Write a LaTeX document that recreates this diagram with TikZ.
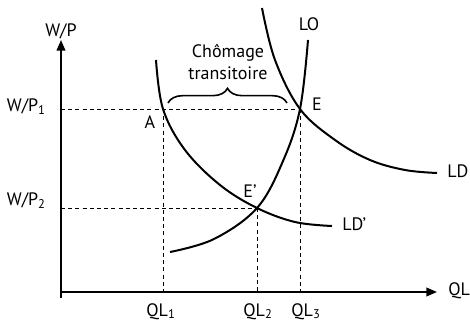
\documentclass[tikz,border=0pt]{standalone}
\usepackage{fontspec}
\setmainfont{PT Sans}
\usetikzlibrary{arrows.meta,positioning,decorations.pathreplacing}

\begin{document}
\begin{tikzpicture}[x=0.75pt,y=0.75pt, every node/.style={font=\fontsize{13.5}{16}\selectfont,inner sep=0pt}, axis/.style={line width=1.4pt,-{Triangle[length=8pt,width=6.5pt]}}, curve/.style={line width=1.5pt}, guide/.style={line width=0.7pt,dash pattern=on 3pt off 2.4pt}, >=Latex]
\useasboundingbox (0,0) rectangle (470,321);
% points of the graph
\coordinate (O) at (61,29);\coordinate (ytop) at (61,281);\coordinate (xend) at (437,29);
\coordinate (E) at (300,212);\coordinate (A) at (163,212);\coordinate (Ep) at (257,113);
% axes
\draw[axis] (O)--(ytop);\draw[axis] (O)--(xend);\draw[line width=1.4pt] (O)--++(0,-6);
\node (wp) at (61,290) {W/P};
\node (ql) [anchor=west] at (448,30) {QL};
% guide lines
\draw[guide] (O|-E)--(E);\draw[guide] (E)--(E|-O);\draw[guide] (A)--(A|-O);
\draw[guide] (O|-Ep)--(Ep);\draw[guide] (Ep)--(Ep|-O);
\node (wp1) [anchor=east] at (46,214) {W/P\textsubscript{1}};
\node (wp2) [anchor=east] at (46,120) {W/P\textsubscript{2}};
\node (ql1) [anchor=north] at (161,18) {QL\textsubscript{1}};
\node (ql2) [anchor=north] at (258,18) {QL\textsubscript{2}};
\node (ql3) [anchor=north] at (306,18) {QL\textsubscript{3}};
% curves
\draw[curve] plot[smooth,tension=0.6] coordinates {(170,69) (214,82) (Ep) (283,160) (E) (308,281)};
\draw[curve] plot[smooth,tension=0.6] coordinates {(262,313) (275,261) (E) (335,181) (370,161) (405,151) (437,148)};
\draw[curve] plot[smooth,tension=0.6] coordinates {(156,261) (A) (185,171) (220,136) (Ep) (295,99) (332,95)};
\node (lo) at (309,297) {LO};
\node (ld) [anchor=west] at (447,150) {LD};
\node (ldp) [anchor=west] at (342,97) {LD’};
\node (a) at (150,199) {A};
\node (e) at (317,217) {E};
\node (ep) at (250,130) {E’};
% brace
\draw[line width=1.2pt,decorate,decoration={brace,amplitude=11pt}] (168,218)--(287,218);
\node (chomage) [align=center] at (228,259) {Chômage\\transitoire};
\end{tikzpicture}
\end{document}
